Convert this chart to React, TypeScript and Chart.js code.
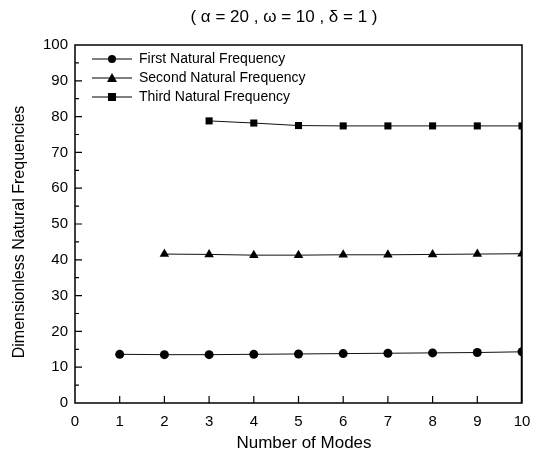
import React, { useEffect, useRef } from "react";
import { Chart, registerables } from "chart.js";

Chart.register(...registerables);

const titleText = "( \u03b1 = 20 , \u03c9 = 10 , \u03b4 = 1 )";
const xTitle = "Number of Modes";
const yTitle = "Dimensionless Natural Frequencies";

const firstModes = [1, 2, 3, 4, 5, 6, 7, 8, 9, 10];
const firstValues = [13.6, 13.5, 13.5, 13.6, 13.7, 13.8, 13.9, 14.0, 14.1, 14.3];

const secondModes = [2, 3, 4, 5, 6, 7, 8, 9, 10];
const secondValues = [41.6, 41.5, 41.3, 41.3, 41.4, 41.4, 41.5, 41.6, 41.7];

const thirdModes = [3, 4, 5, 6, 7, 8, 9, 10];
const thirdValues = [78.8, 78.2, 77.5, 77.4, 77.4, 77.4, 77.4, 77.4];

const seriesLabels = [
  "First Natural Frequency",
  "Second Natural Frequency",
  "Third Natural Frequency",
];
const seriesStyles = ["circle", "triangle", "rect"];

const FONT = "'Liberation Sans', Arial, Helvetica, sans-serif";

function drawMarker(ctx: CanvasRenderingContext2D, style: string, x: number, y: number) {
  ctx.beginPath();
  if (style === "circle") {
    ctx.arc(x, y, 4, 0, Math.PI * 2);
  } else if (style === "triangle") {
    ctx.moveTo(x, y - 5);
    ctx.lineTo(x + 5, y + 4);
    ctx.lineTo(x - 5, y + 4);
    ctx.closePath();
  } else {
    ctx.rect(x - 4, y - 4, 8, 8);
  }
  ctx.fill();
}

const framePlugin = {
  id: "frameTicks",
  afterDatasetsDraw(chart: any) {
    const { ctx, chartArea } = chart;
    const xs = chart.scales.x;
    const ys = chart.scales.y;
    ctx.save();
    ctx.strokeStyle = "#000";
    ctx.lineWidth = 1.5;
    ctx.strokeRect(chartArea.left, chartArea.top, chartArea.right - chartArea.left, chartArea.bottom - chartArea.top);
    ctx.lineWidth = 1.2;
    ctx.beginPath();
    for (let v = 1; v < 10; v++) {
      const px = xs.getPixelForValue(v);
      ctx.moveTo(px, chartArea.bottom);
      ctx.lineTo(px, chartArea.bottom - 7);
    }
    for (let v = 5; v < 100; v += 5) {
      const py = ys.getPixelForValue(v);
      const len = v % 10 === 0 ? 7 : 4;
      ctx.moveTo(chartArea.left, py);
      ctx.lineTo(chartArea.left + len, py);
    }
    ctx.stroke();

    // titles
    ctx.fillStyle = "#000";
    ctx.textBaseline = "middle";
    ctx.textAlign = "center";
    ctx.font = "17px " + FONT;
    ctx.fillText(titleText, 284, 17);
    ctx.fillText(xTitle, 304, 443);
    ctx.save();
    ctx.translate(20, 232);
    ctx.rotate(-Math.PI / 2);
    ctx.font = "16px " + FONT;
    ctx.fillText(yTitle, 0, 0);
    ctx.restore();

    // legend
    const rows = [59, 78, 97];
    ctx.font = "14px " + FONT;
    ctx.textBaseline = "middle";
    ctx.textAlign = "left";
    for (let i = 0; i < 3; i++) {
      const y = rows[i];
      ctx.lineWidth = 1;
      ctx.beginPath();
      ctx.moveTo(92, y);
      ctx.lineTo(132, y);
      ctx.stroke();
      drawMarker(ctx, seriesStyles[i], 112, y);
      ctx.fillText(seriesLabels[i], 139, y);
    }
    ctx.restore();
  },
};

export default function App() {
  const ref = useRef<HTMLCanvasElement | null>(null);
  useEffect(() => {
    document.body.style.margin = "0";
    const canvas = ref.current!;
    const mk = (modes: number[], vals: number[]) => modes.map((m, i) => ({ x: m, y: vals[i] }));
    const common = {
      borderColor: "#111",
      backgroundColor: "#000",
      borderWidth: 1,
      pointBorderWidth: 0,
      showLine: true,
    };
    const chart = new Chart(canvas, {
      type: "scatter",
      data: {
        datasets: [
          { ...common, label: seriesLabels[0], data: mk(firstModes, firstValues), pointStyle: "circle", pointRadius: 4.5 },
          { ...common, label: seriesLabels[1], data: mk(secondModes, secondValues), pointStyle: "triangle", pointRadius: 5.5 },
          { ...common, label: seriesLabels[2], data: mk(thirdModes, thirdValues), pointStyle: "rect", pointRadius: 5 },
          {
            label: "edge",
            data: [
              { x: 10, y: 0 },
              { x: 10, y: thirdValues[thirdValues.length - 1] },
            ],
            showLine: true,
            borderColor: "#000",
            borderWidth: 2.5,
            pointRadius: 0,
          },
        ],
      } as any,
      options: {
        animation: false,
        responsive: false,
        devicePixelRatio: 1,
        layout: { padding: { left: 0, right: 19, top: 45, bottom: 0 } },
        plugins: {
          legend: { display: false },
          tooltip: { enabled: false },
          title: { display: false },
        },
        scales: {
          x: {
            type: "linear",
            min: 0,
            max: 10,
            grid: { display: false, drawTicks: false },
            border: { display: false },
            ticks: {
              stepSize: 1,
              padding: 10,
              color: "#000",
              font: { family: FONT, size: 15 },
              maxRotation: 0,
            },
            afterFit: (s: any) => {
              s.height = 56;
            },
          },
          y: {
            type: "linear",
            min: 0,
            max: 100,
            grid: { display: false, drawTicks: false },
            border: { display: false },
            ticks: {
              stepSize: 10,
              padding: 7,
              color: "#000",
              font: { family: FONT, size: 15 },
            },
            afterFit: (s: any) => {
              s.width = 75;
            },
          },
        },
      } as any,
      plugins: [framePlugin],
    });
    return () => chart.destroy();
  }, []);
  return (
    <div style={{ position: "absolute", left: 0, top: 0, width: 541, height: 459, background: "#fff" }}>
      <canvas ref={ref} width={541} height={459} />
    </div>
  );
}
